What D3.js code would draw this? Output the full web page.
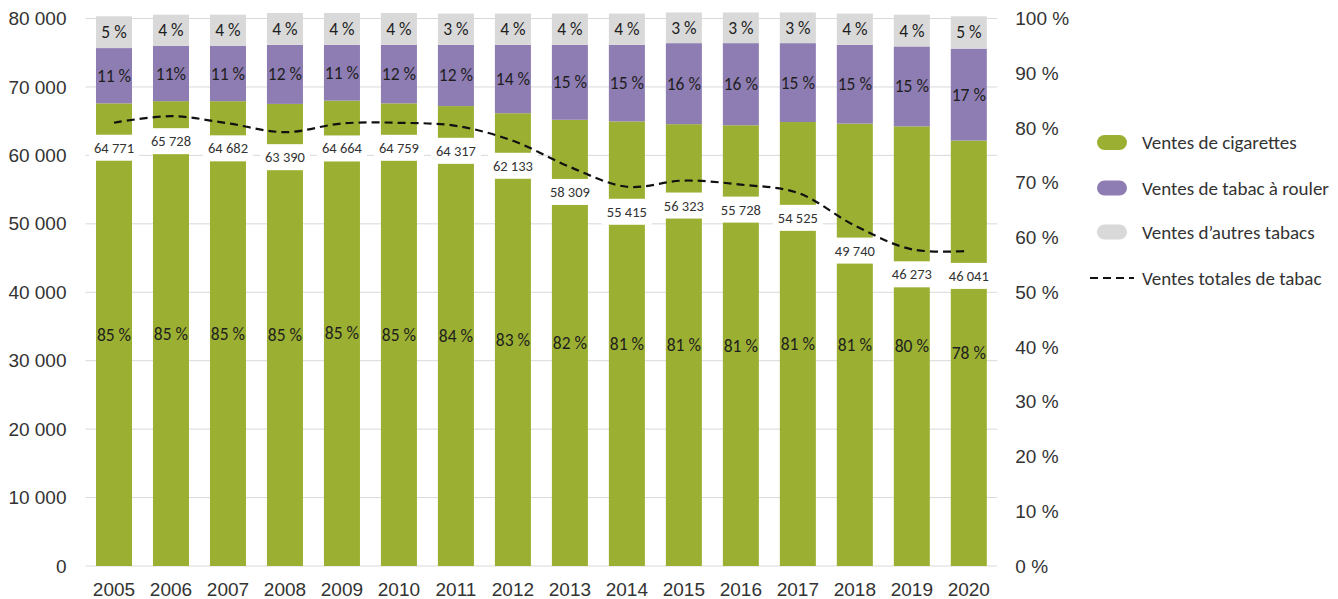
<!DOCTYPE html>
<html>
<head>
<meta charset="utf-8">
<script src="https://cdn.jsdelivr.net/npm/d3@7"></script>
<style>
  html, body { margin: 0; padding: 0; background: #fff; }
  svg { display: block; font-family: Carlito, Lato, "Open Sans", sans-serif; }
</style>
</head>
<body>
<svg id="chart" width="1338" height="599"></svg>
<script>
// ---- data ----
const years = ["2005","2006","2007","2008","2009","2010","2011","2012","2013","2014","2015","2016","2017","2018","2019","2020"];
const totals = [64771, 65728, 64682, 63390, 64664, 64759, 64317, 62133, 58309, 55415, 56323, 55728, 54525, 49740, 46273, 46041];
// shares as drawn (% of right axis)
const cigShare   = [84.5, 84.9, 84.9, 84.4, 85.0, 84.5, 84.0, 82.7, 81.5, 81.2, 80.7, 80.5, 81.1, 80.8, 80.3, 77.7];
const rollShare  = [10.1, 10.1, 10.1, 10.8, 10.2, 10.7, 11.2, 12.5, 13.7, 14.0, 14.8, 15.0, 14.4, 14.4, 14.6, 16.8];
const otherShare = [5.8, 5.7, 5.7, 5.8, 5.8, 5.8, 5.7, 5.7, 5.7, 5.7, 5.6, 5.6, 5.6, 5.7, 5.8, 5.9];
// printed labels
const cigLabels   = ["85 %","85 %","85 %","85 %","85 %","85 %","84 %","83 %","82 %","81 %","81 %","81 %","81 %","81 %","80 %","78 %"];
const rollLabels  = ["11 %","11%","11 %","12 %","11 %","12 %","12 %","14 %","15 %","15 %","16 %","16 %","15 %","15 %","15 %","17 %"];
const otherLabels = ["5 %","4 %","4 %","4 %","4 %","4 %","3 %","4 %","4 %","4 %","3 %","3 %","3 %","4 %","4 %","5 %"];
const leftTicks = [0, 10000, 20000, 30000, 40000, 50000, 60000, 70000, 80000];
const rightTicks = [0, 10, 20, 30, 40, 50, 60, 70, 80, 90, 100];
const seriesNames = ["Ventes de cigarettes", "Ventes de tabac à rouler", "Ventes d’autres tabacs", "Ventes totales de tabac"];
const colors = ["#9bb032", "#8e7db3", "#d9d9d9"];

// ---- layout ----
const svg = d3.select("#chart");
const plotL = 85.5, plotR = 997.3, plotT = 18.5, plotB = 566;

const fr = d3.formatLocale({decimal: ",", thousands: "\u00a0", grouping: [3]});
const fmt = fr.format(",d");

const x = d3.scaleBand().domain(years).range([plotL, plotR]).paddingInner(0.368).paddingOuter(0.184);
const yL = d3.scaleLinear().domain([0, 80000]).range([plotB, plotT]);
const yR = d3.scaleLinear().domain([0, 100]).range([plotB, plotT]);

// gridlines
svg.append("g").selectAll("line").data(leftTicks).join("line")
  .attr("x1", plotL).attr("x2", plotR)
  .attr("y1", d => yL(d)).attr("y2", d => yL(d))
  .attr("stroke", "#d9d9d9").attr("stroke-width", 1);

// left axis
const axL = svg.append("g").attr("transform", `translate(${plotL},0)`)
  .call(d3.axisLeft(yL).tickValues(leftTicks).tickFormat(fmt).tickSize(0).tickPadding(19));
axL.select(".domain").remove();
axL.selectAll("text").attr("font-size", 19).attr("fill", "#333").attr("font-family", null);

// right axis
const axR = svg.append("g").attr("transform", `translate(${plotR},0)`)
  .call(d3.axisRight(yR).tickValues(rightTicks).tickFormat(d => d + "\u00a0%").tickSize(0).tickPadding(18));
axR.select(".domain").remove();
axR.selectAll("text").attr("font-size", 19).attr("fill", "#333").attr("font-family", null);

// bottom axis
const axB = svg.append("g").attr("transform", `translate(0,${plotB})`)
  .call(d3.axisBottom(x).tickSize(0).tickPadding(17));
axB.select(".domain").remove();
axB.selectAll("text").attr("font-size", 19).attr("fill", "#333").attr("font-family", null);

// stacked bars
const rows = years.map((yr, i) => ({year: yr, cig: cigShare[i], roll: rollShare[i], other: otherShare[i], i}));
const stack = d3.stack().keys(["cig", "roll", "other"])(rows);
const labelSets = [cigLabels, rollLabels, otherLabels];

stack.forEach((layer, k) => {
  svg.append("g").selectAll("rect").data(layer).join("rect")
    .attr("x", d => x(d.data.year))
    .attr("width", x.bandwidth())
    .attr("y", d => yR(d[1]))
    .attr("height", d => yR(d[0]) - yR(d[1]))
    .attr("fill", colors[k]);
});

stack.forEach((layer, k) => {
  svg.append("g").selectAll("text").data(layer).join("text")
    .attr("x", d => x(d.data.year) + x.bandwidth() / 2)
    .attr("y", d => (yR(d[0]) + yR(d[1])) / 2)
    .attr("text-anchor", "middle")
    .attr("dominant-baseline", "central")
    .attr("font-size", 17.5)
    .attr("fill", "#1e1e1e")
    .text(d => labelSets[k][d.data.i]);
});

// total line
const line = d3.line()
  .x((d, i) => x(years[i]) + x.bandwidth() / 2)
  .y(d => yL(d))
  .curve(d3.curveCatmullRom.alpha(0.5));

svg.append("path").datum(totals)
  .attr("d", line)
  .attr("fill", "none")
  .attr("stroke", "#111")
  .attr("stroke-width", 2.2)
  .attr("stroke-dasharray", "8,5");

// total labels with white boxes
const tl = svg.append("g").selectAll("g").data(totals).join("g")
  .attr("transform", (d, i) => `translate(${x(years[i]) + x.bandwidth() / 2},${yL(d) + 25})`);
tl.append("rect")
  .attr("x", -25).attr("y", -13).attr("width", 50).attr("height", 26)
  .attr("fill", "#fff");
tl.append("text")
  .attr("text-anchor", "middle")
  .attr("dominant-baseline", "central")
  .attr("font-size", 14.5)
  .attr("fill", "#333")
  .text(d => fmt(d));

// legend
const legY = [142.5, 188, 232, 278];
const leg = svg.append("g");
for (let k = 0; k < 3; k++) {
  leg.append("rect")
    .attr("x", 1097).attr("y", legY[k] - 7.5).attr("width", 30).attr("height", 15)
    .attr("rx", 7.5).attr("ry", 7.5)
    .attr("fill", colors[k]);
}
leg.append("line")
  .attr("x1", 1090).attr("x2", 1134).attr("y1", legY[3]).attr("y2", legY[3])
  .attr("stroke", "#111").attr("stroke-width", 2.2).attr("stroke-dasharray", "8,5");
leg.selectAll("text").data(seriesNames).join("text")
  .attr("x", 1142).attr("y", (d, k) => legY[k])
  .attr("dominant-baseline", "central")
  .attr("font-size", 19)
  .attr("fill", "#333")
  .text(d => d);
</script>
</body>
</html>
